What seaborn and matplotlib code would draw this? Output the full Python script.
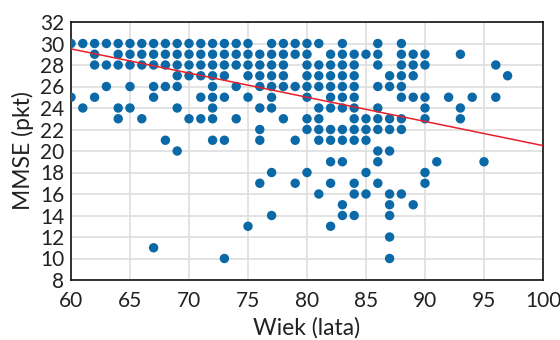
import matplotlib
matplotlib.use("Agg")
import matplotlib.pyplot as plt
import seaborn as sns
import pandas as pd

# Ages (years) observed at each MMSE score
row30 = [60, 61, 62, 63, 64, 65, 66, 67, 68, 69, 70, 71, 72, 73, 74, 75, 77, 78, 79, 80, 81, 83, 86, 88]
row29 = [62, 64, 65, 66, 67, 68, 69, 70, 71, 72, 73, 74, 75, 76, 77, 78, 79, 80, 82, 83, 84, 85, 86, 88, 89, 90, 93]
row28 = [62, 63, 64, 65, 66, 67, 68, 69, 70, 71, 72, 73, 74, 75, 76, 77, 78, 80, 81, 82, 83, 84, 86, 88, 89, 90, 96]
row27 = [69, 70, 71, 72, 73, 75, 76, 77, 78, 80, 81, 82, 83, 84, 87, 88, 89, 97]
row26 = [63, 65, 67, 68, 69, 72, 74, 76, 77, 78, 79, 80, 81, 82, 83, 84, 86, 87, 88]
row25 = [60, 62, 67, 71, 72, 73, 75, 77, 80, 82, 83, 84, 88, 89, 90, 92, 94, 96]
row24 = [61, 64, 65, 69, 72, 76, 77, 81, 82, 83, 84, 86, 90, 93]
row23 = [64, 66, 70, 71, 72, 74, 78, 80, 81, 84, 85, 86, 87, 88, 90, 93]
row22 = [76, 80, 81, 82, 83, 84, 85, 86, 87, 88]
row21 = [68, 72, 73, 76, 79, 81, 82, 83, 84, 85]
row20 = [69, 86, 87]
row19 = [82, 83, 86, 91, 95]
row18 = [77, 80, 85, 90]
row17 = [76, 79, 82, 84, 86, 90]
row16 = [81, 84, 85, 87, 88]
row15 = [83, 87, 89]
row14 = [77, 83, 84, 87]
row13 = [75, 82]
row12 = [87]
row11 = [67]
row10 = [73, 87]

scores = [30, 29, 28, 27, 26, 25, 24, 23, 22, 21, 20, 19, 18, 17, 16, 15, 14, 13, 12, 11, 10]
rows = [row30, row29, row28, row27, row26, row25, row24, row23, row22, row21, row20,
        row19, row18, row17, row16, row15, row14, row13, row12, row11, row10]

# Fitted trend line
fit_age = [60, 100]
fit_mmse = [29.5, 20.5]

x_ticks = [60, 65, 70, 75, 80, 85, 90, 95, 100]
y_ticks = [8, 10, 12, 14, 16, 18, 20, 22, 24, 26, 28, 30, 32]

ages, mmse = [], []
for s, r in zip(scores, rows):
    ages.extend(r)
    mmse.extend([s] * len(r))
df = pd.DataFrame({"Wiek": ages, "MMSE": mmse})
fit = pd.DataFrame({"Wiek": fit_age, "MMSE": fit_mmse})

sns.set_theme(style="whitegrid")
plt.rcParams['font.family'] = ['Lato', 'DejaVu Sans']

fig = plt.figure(figsize=(5.6, 3.4), dpi=100)
ax = fig.add_axes([71 / 560, 1 - 280 / 340, (543 - 71) / 560, (280 - 22) / 340])

sns.scatterplot(data=df, x="Wiek", y="MMSE", ax=ax, color="#0b69a8", s=46,
                edgecolor="none", linewidth=0, zorder=3)
sns.lineplot(data=fit, x="Wiek", y="MMSE", ax=ax, color="#e8202a", linewidth=1.1, zorder=4)

ax.set_xlim(60, 100)
ax.set_ylim(8, 32)
ax.set_xticks(x_ticks)
ax.set_yticks(y_ticks)
ax.grid(True, color="#dedede", linewidth=1.2)
ax.set_axisbelow(True)
for sp in ax.spines.values():
    sp.set_color("#111111")
    sp.set_linewidth(1.2)
ax.tick_params(axis="both", length=0, labelsize=15, colors="#222222")
ax.tick_params(axis="x", pad=8)
ax.tick_params(axis="y", pad=5)
ax.set_xlabel("Wiek (lata)", fontsize=16.5, color="#222222", labelpad=4)
ax.set_ylabel("MMSE (pkt)", fontsize=16.5, color="#222222", labelpad=4)

fig.savefig("out.png", dpi=100)
